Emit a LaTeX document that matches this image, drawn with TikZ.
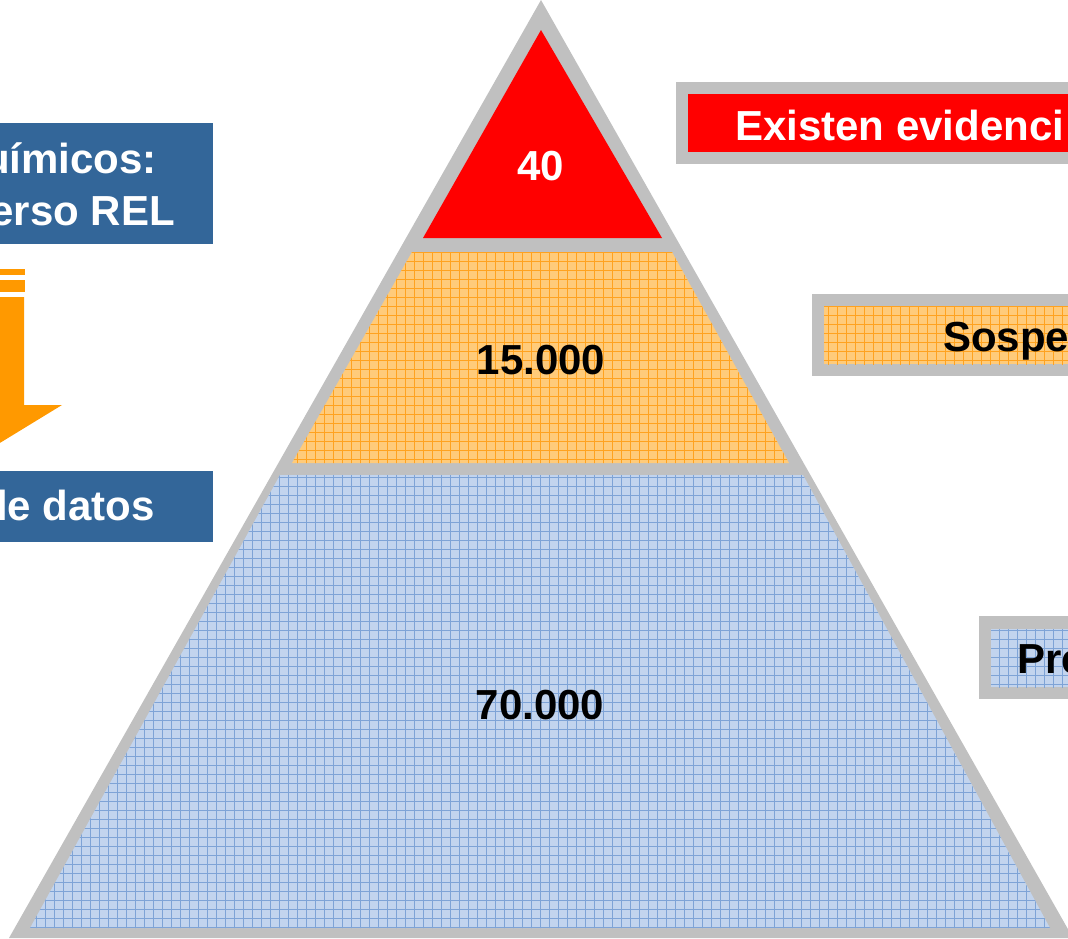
\documentclass[tikz,border=0pt]{standalone}
\usepackage{fontspec}
\setmainfont{Liberation Sans}
\usepackage{xcolor}

\definecolor{fr}{HTML}{C0C0C0}
\definecolor{rd}{HTML}{FF0000}
\definecolor{bx}{HTML}{336699}
\definecolor{ar}{HTML}{FF9900}
\definecolor{ol}{HTML}{FFCB7A}
\definecolor{on}{HTML}{FFA21F}
\definecolor{bl}{HTML}{C2D4EE}
\definecolor{bn}{HTML}{7EA3D6}

\tikzset{
  lbl/.style={font=\fontsize{42}{48}\selectfont\bfseries, inner sep=0pt},
  grd/.style={path picture={
    \foreach \x in {0,9,...,1080} \draw[#1, line width=.8pt] (\x,0) -- (\x,950);
    \foreach \y in {0,9,...,950} \draw[#1, line width=.8pt] (0,\y) -- (1080,\y);}},
}

\begin{document}
\begin{tikzpicture}[x=1pt,y=-1pt]
  \clip (0,0) rectangle (1068,938);

  % pyramid
  \fill[fr] (541,0) -- (1073,938) -- (9,938) -- cycle;
  \fill[rd] (541,30) -- (662,238) -- (423,238) -- cycle;
  \fill[ol, grd=on] (412,252) -- (672,252) -- (789,463) -- (292,463) -- cycle;
  \fill[bl, grd=bn] (280,475) -- (803,475) -- (1050,928) -- (30,928) -- cycle;
  \node (tp) [lbl, text=white] at (541,166) {40};
  \node (md) [lbl] at (541,360) {15.000};
  \node (bt) [lbl] at (540,705) {70.000};

  % legend boxes
  \fill[fr] (676,82) rectangle (1080,164);
  \fill[rd] (688,94) rectangle (1080,152);
  \node (ev) [lbl, text=white, anchor=base west] at (735,140) {Existen evidenci};
  \fill[fr] (812,294) rectangle (1080,376);
  \fill[ol, grd=on] (824,306) rectangle (1080,364);
  \node (sp) [lbl, anchor=base west] at (943,351) {Sospe};
  \fill[fr] (979,616) rectangle (1080,699);
  \fill[bl, grd=bn] (991,629) rectangle (1080,687);
  \node (pr) [lbl, anchor=base west] at (1017,673) {Pre};

  % left side
  \fill[bx] (-20,123) rectangle (213,244);
  \node (qu) [lbl, text=white, anchor=base east] at (157,173) {uímicos:};
  \node (re) [lbl, text=white, anchor=base east] at (175,225) {erso REL};
  \fill[ar] (-20,269) rectangle (25,275);
  \fill[ar] (-20,280) rectangle (25,292);
  \fill[ar] (-40,297) -- (24,297) -- (24,405) -- (62,405)
    -- (-10,449) -- (-40,449) -- cycle;
  \fill[bx] (-20,471) rectangle (213,542);
  \node (da) [lbl, text=white, anchor=base east] at (155,520) {le datos};
\end{tikzpicture}
\end{document}
